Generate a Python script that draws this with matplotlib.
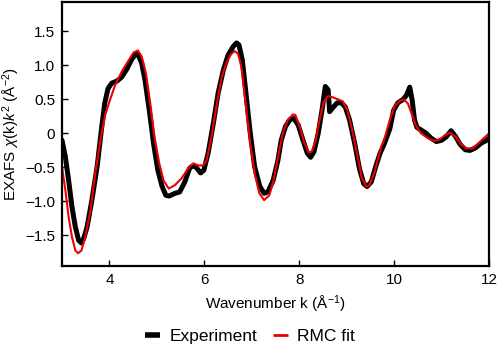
import numpy as np
import matplotlib.pyplot as plt

plt.rcParams['font.family'] = ['Liberation Sans', 'DejaVu Sans']
plt.rcParams['mathtext.fontset'] = 'custom'
plt.rcParams['mathtext.rm'] = 'Liberation Sans'
plt.rcParams['mathtext.it'] = 'Liberation Sans:italic'

# experiment
k_exp = [3.0, 3.07, 3.14, 3.21, 3.28, 3.35, 3.41, 3.46, 3.53, 3.63, 3.74, 3.83, 3.9, 3.97,
         4.05, 4.16, 4.26, 4.37, 4.47, 4.56, 4.61, 4.68, 4.75, 4.84, 4.93, 5.02, 5.11,
         5.19, 5.26, 5.38, 5.48, 5.59, 5.69, 5.77, 5.84, 5.92, 5.99, 6.08, 6.19, 6.29,
         6.4, 6.5, 6.61, 6.68, 6.73, 6.8, 6.87, 6.96, 7.06, 7.17, 7.26, 7.34, 7.45,
         7.55, 7.62, 7.71, 7.8, 7.89, 7.98, 8.08, 8.17, 8.24, 8.31, 8.4, 8.48, 8.55,
         8.61, 8.64, 8.71, 8.8, 8.89, 8.97, 9.06, 9.17, 9.27, 9.36, 9.43, 9.52, 9.62,
         9.7, 9.8, 9.91, 9.99, 10.08, 10.19, 10.26, 10.33, 10.38, 10.43, 10.48, 10.57,
         10.68, 10.78, 10.89, 11.0, 11.1, 11.2, 11.3, 11.39, 11.5, 11.6, 11.72, 11.84,
         11.93, 12.0]
chi_exp = [-0.1, -0.34, -0.69, -1.08, -1.37, -1.57, -1.61, -1.54, -1.37, -0.98, -0.49,
           0.05, 0.44, 0.66, 0.74, 0.77, 0.83, 0.95, 1.09, 1.17, 1.15, 1.03, 0.78, 0.34,
           -0.15, -0.54, -0.78, -0.91, -0.92, -0.88, -0.86, -0.71, -0.51, -0.47, -0.51,
           -0.58, -0.54, -0.29, 0.15, 0.59, 0.93, 1.15, 1.28, 1.33, 1.3, 1.08, 0.64,
           0.05, -0.49, -0.78, -0.88, -0.86, -0.69, -0.4, -0.1, 0.1, 0.2, 0.22, 0.12,
           -0.1, -0.29, -0.35, -0.27, 0.0, 0.34, 0.69, 0.64, 0.32, 0.38, 0.45, 0.45,
           0.39, 0.2, -0.15, -0.52, -0.74, -0.78, -0.71, -0.47, -0.3, -0.14, 0.07, 0.34,
           0.45, 0.5, 0.56, 0.68, 0.49, 0.2, 0.09, 0.05, 0.0, -0.07, -0.12, -0.1, -0.05,
           0.04, -0.05, -0.16, -0.24, -0.25, -0.21, -0.14, -0.11, -0.07]

# RMC fit
k_fit = [3.0, 3.07, 3.14, 3.21, 3.28, 3.34, 3.41, 3.49, 3.6, 3.7, 3.81, 3.91, 4.02, 4.12,
         4.26, 4.4, 4.51, 4.6, 4.68, 4.77, 4.86, 4.95, 5.05, 5.14, 5.25, 5.38, 5.52,
         5.66, 5.77, 5.87, 5.98, 6.05, 6.15, 6.26, 6.36, 6.47, 6.57, 6.64, 6.71, 6.78,
         6.87, 6.96, 7.06, 7.16, 7.26, 7.37, 7.46, 7.57, 7.66, 7.76, 7.87, 7.92, 8.01,
         8.1, 8.19, 8.26, 8.34, 8.43, 8.52, 8.61, 8.71, 8.82, 8.92, 9.01, 9.11, 9.23,
         9.32, 9.41, 9.48, 9.59, 9.72, 9.8, 9.91, 10.01, 10.12, 10.2, 10.29, 10.38,
         10.47, 10.57, 10.71, 10.85, 10.96, 11.08, 11.18, 11.3, 11.41, 11.53, 11.65,
         11.77, 11.89, 12.0]
chi_fit = [-0.49, -0.83, -1.23, -1.52, -1.72, -1.76, -1.72, -1.52, -1.13, -0.59, -0.1,
           0.27, 0.51, 0.71, 0.91, 1.07, 1.19, 1.22, 1.13, 0.88, 0.44, -0.05, -0.44,
           -0.69, -0.81, -0.76, -0.66, -0.51, -0.44, -0.47, -0.47, -0.39, -0.05, 0.42,
           0.81, 1.05, 1.17, 1.21, 1.17, 0.98, 0.44, -0.1, -0.59, -0.88, -0.98, -0.91,
           -0.69, -0.29, 0.02, 0.2, 0.28, 0.27, 0.1, -0.12, -0.27, -0.27, -0.12, 0.2,
           0.47, 0.55, 0.53, 0.5, 0.47, 0.35, 0.07, -0.34, -0.66, -0.78, -0.76, -0.56,
           -0.22, -0.07, 0.2, 0.4, 0.48, 0.5, 0.44, 0.27, 0.1, 0.0, -0.07, -0.11, -0.09,
           -0.02, 0.01, -0.05, -0.16, -0.22, -0.22, -0.15, -0.07, 0.0]

yticks = [-1.5, -1.0, -0.5, 0, 0.5, 1.0, 1.5]
ylabels = ['\u22121.5', '\u22121.0', '\u22120.5', '0', '0.5', '1.0', '1.5']

fig = plt.figure(figsize=(5, 3.52), dpi=100)
ax = fig.add_axes([0.124, 0.244, 0.854, 0.75])
ax.plot(k_exp, chi_exp, color='black', lw=3.6, label='Experiment',
        solid_joinstyle='round', solid_capstyle='round')
ax.plot(k_fit, chi_fit, color='#ee0000', lw=1.5, label='RMC fit', solid_joinstyle='round')

ax.set_xlim(3, 12)
ax.set_ylim(-1.95, 1.93)
ax.set_xticks([4, 6, 8, 10, 12])
ax.set_yticks(yticks)
ax.set_yticklabels(ylabels)
ax.tick_params(direction='in', length=4, width=1, labelsize=11, pad=5)
for s in ax.spines.values():
    s.set_linewidth(1.6)

ax.set_xlabel('Wavenumber k (\u00c5$^{-1}$)', fontsize=11, labelpad=5)
ax.set_ylabel('EXAFS $\\chi$(k)$k^2$ (\u00c5$^{-2}$)', fontsize=11, labelpad=2)

leg = fig.legend(loc='center', bbox_to_anchor=(0.5, 0.045), ncol=2, frameon=False,
                 fontsize=12.5, handlelength=0.85, columnspacing=0.9, handletextpad=0.55)
for line, w in zip(leg.get_lines(), [4, 2]):
    line.set_linewidth(w)
    line.set_solid_capstyle('butt')

fig.savefig('out.png', dpi=100)
